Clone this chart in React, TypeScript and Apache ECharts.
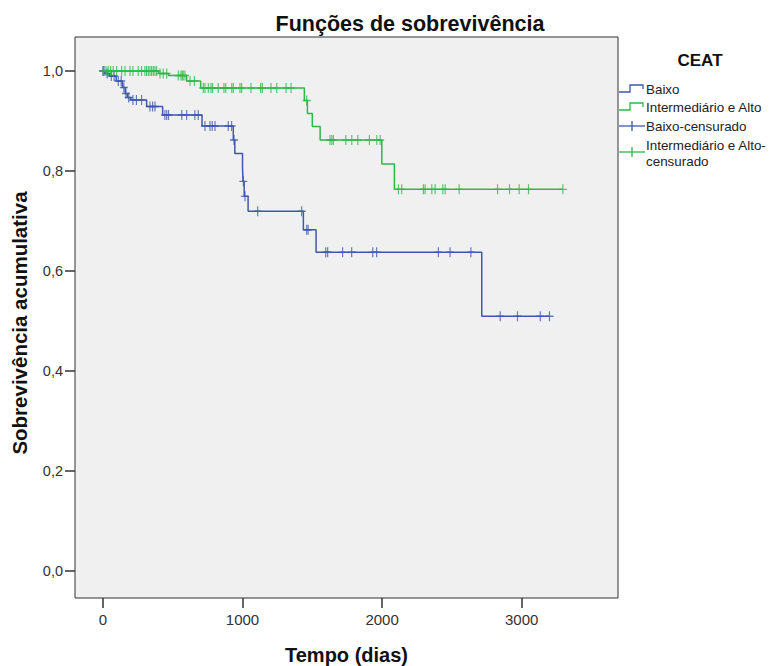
import React, { useEffect, useRef } from "react";
import * as echarts from "echarts";

const BLUE = "#3E58AC";
const GREEN = "#2EB848";
const FONT = "'Liberation Sans', Arial, sans-serif";

const chartTitle = "Funções de sobrevivência";
const xAxisTitle = "Tempo (dias)";
const yAxisTitle = "Sobrevivência acumulativa";
const legendTitle = "CEAT";
const seriesNames = ["Baixo", "Intermediário e Alto", "Baixo-censurado", "Intermediário e Alto-censurado"];

const xTicks = [0, 1000, 2000, 3000];
const yTicks = [0, 0.2, 0.4, 0.6, 0.8, 1.0];

// Kaplan-Meier steps [time, survival]
const baixoSteps: [number, number][] = [
  [0, 1.0], [15, 0.995], [45, 0.99], [95, 0.98], [140, 0.967], [160, 0.955],
  [175, 0.947], [200, 0.942], [313, 0.929], [428, 0.912], [710, 0.89],
  [934, 0.862], [945, 0.835], [1000, 0.807], [1004, 0.779], [1012, 0.749],
  [1040, 0.719], [1436, 0.682], [1527, 0.637], [2714, 0.509], [3199, 0.509],
];

const altoSteps: [number, number][] = [
  [0, 1.0], [400, 0.995], [470, 0.991], [600, 0.98], [700, 0.966],
  [1443, 0.941], [1465, 0.915], [1500, 0.889], [1556, 0.862],
  [1998, 0.814], [2088, 0.763], [3295, 0.763],
];

// censored observations [time, survival]
const baixoCensored: [number, number][] = [
  [0, 1.0], [8, 1.0], [30, 0.995], [60, 0.99], [80, 0.99], [110, 0.98], [131, 0.98],
  [150, 0.967], [165, 0.955], [185, 0.947], [215, 0.942], [240, 0.942], [277, 0.942],
  [337, 0.929], [356, 0.929], [373, 0.929], [444, 0.912], [457, 0.912], [470, 0.912],
  [565, 0.912], [600, 0.912], [659, 0.912], [683, 0.912],
  [731, 0.89], [767, 0.89], [783, 0.89], [803, 0.89], [898, 0.89], [922, 0.89],
  [939, 0.862], [1006, 0.779], [1018, 0.749], [1109, 0.719], [1424, 0.719],
  [1460, 0.682], [1470, 0.682],
  [1596, 0.637], [1610, 0.637], [1717, 0.637], [1782, 0.637], [1933, 0.637],
  [1961, 0.637], [2403, 0.637], [2487, 0.637], [2636, 0.637],
  [2846, 0.509], [2970, 0.509], [3133, 0.509], [3199, 0.509],
];

const altoCensored: [number, number][] = [
  [2, 1.0], [22, 1.0], [38, 1.0], [55, 1.0], [74, 1.0], [98, 1.0], [134, 1.0],
  [158, 1.0], [194, 1.0], [215, 1.0], [253, 1.0], [277, 1.0], [301, 1.0],
  [313, 1.0], [325, 1.0], [337, 1.0], [349, 1.0], [361, 1.0], [373, 1.0], [385, 1.0],
  [409, 0.995], [432, 0.995], [457, 0.995],
  [540, 0.991], [559, 0.991], [568, 0.991], [575, 0.991], [588, 0.991],
  [624, 0.98], [655, 0.98],
  [719, 0.966], [731, 0.966], [755, 0.966], [774, 0.966], [786, 0.966], [826, 0.966],
  [867, 0.966], [880, 0.966], [923, 0.966], [934, 0.966], [982, 0.966], [994, 0.966],
  [1061, 0.966], [1130, 0.966], [1142, 0.966], [1204, 0.966], [1245, 0.966],
  [1312, 0.966], [1348, 0.966],
  [1460, 0.941],
  [1627, 0.862], [1640, 0.862], [1651, 0.862], [1740, 0.862], [1783, 0.862],
  [1826, 0.862], [1909, 0.862], [1962, 0.862], [1986, 0.862],
  [2117, 0.763], [2141, 0.763], [2296, 0.763], [2308, 0.763], [2356, 0.763],
  [2380, 0.763], [2435, 0.763], [2452, 0.763], [2552, 0.763], [2827, 0.763],
  [2913, 0.763], [2982, 0.763], [3049, 0.763], [3295, 0.763],
];

const PLUS = "path://M5,0 L5,10 M0,5 L10,5";

export default function App() {
  const ref = useRef<HTMLDivElement>(null);

  useEffect(() => {
    if (!ref.current) return;
    const chart = echarts.init(ref.current, null, { renderer: "svg" });

    const legendText = (x: number, y: number, text: string) => ({
      type: "text",
      x,
      y,
      style: {
        text,
        fill: "#222",
        font: `13.4px ${FONT}`,
        verticalAlign: "middle",
        align: "left",
      },
    });

    chart.setOption({
      animation: false,
      backgroundColor: "#ffffff",
      grid: {
        left: 75,
        top: 37,
        right: 158,
        bottom: 68,
        show: true,
        outerBoundsMode: "none",
        containLabel: false,
        backgroundColor: "#F0F0F0",
        borderColor: "#333333",
        borderWidth: 1,
      },
      xAxis: {
        type: "value",
        min: -200,
        max: 3690,
        name: xAxisTitle,
        nameLocation: "middle",
        nameGap: 47,
        nameTextStyle: { fontFamily: FONT, fontSize: 20, fontWeight: "bold", color: "#111" },
        axisLine: { show: false, onZero: false },
        axisTick: { show: true, inside: false, customValues: xTicks, length: 10, lineStyle: { color: "#333", width: 1.5 } },
        axisLabel: {
          customValues: xTicks,
          margin: 14,
          fontFamily: FONT,
          fontSize: 15,
          color: "#333",
          formatter: (v: number) => String(v),
        },
        splitLine: { show: false },
      },
      yAxis: {
        type: "value",
        min: -0.055,
        max: 1.068,
        axisLine: { show: false, onZero: false },
        axisTick: { show: true, inside: false, customValues: yTicks, length: 10, lineStyle: { color: "#333", width: 1.5 } },
        axisLabel: {
          customValues: yTicks,
          margin: 12,
          fontFamily: FONT,
          fontSize: 14.5,
          color: "#333",
          formatter: (v: number) => v.toFixed(1).replace(".", ","),
        },
        splitLine: { show: false },
      },
      series: [
        {
          name: seriesNames[0],
          type: "line",
          step: "end",
          data: baixoSteps,
          symbol: "none",
          lineStyle: { color: BLUE, width: 1.5 },
          z: 2,
        },
        {
          name: seriesNames[1],
          type: "line",
          step: "end",
          data: altoSteps,
          symbol: "none",
          lineStyle: { color: GREEN, width: 1.5 },
          z: 2,
        },
        {
          name: seriesNames[2],
          type: "scatter",
          data: baixoCensored,
          symbol: PLUS,
          symbolSize: [8, 10],
          itemStyle: { color: "none", borderColor: BLUE, borderWidth: 1.3 },
          z: 3,
        },
        {
          name: seriesNames[3],
          type: "scatter",
          data: altoCensored,
          symbol: PLUS,
          symbolSize: [8, 10],
          itemStyle: { color: "none", borderColor: GREEN, borderWidth: 1.3 },
          z: 3,
        },
      ],
      graphic: [
        {
          type: "text",
          x: 410,
          y: 24,
          style: {
            text: chartTitle,
            fill: "#111",
            font: `bold 21.5px ${FONT}`,
            align: "center",
            verticalAlign: "middle",
          },
        },
        {
          type: "text",
          x: 19,
          y: 323,
          rotation: Math.PI / 2,
          style: {
            text: yAxisTitle,
            fill: "#111",
            font: `bold 20.5px ${FONT}`,
            align: "center",
            verticalAlign: "middle",
          },
        },
        {
          type: "text",
          x: 700,
          y: 60,
          style: {
            text: legendTitle,
            fill: "#111",
            font: `bold 17px ${FONT}`,
            align: "center",
            verticalAlign: "middle",
          },
        },
        {
          type: "polyline",
          shape: { points: [[619, 92], [630, 92], [630, 85], [643, 85], [643, 89]] },
          style: { stroke: BLUE, lineWidth: 1.3, fill: null },
        },
        legendText(646, 89, seriesNames[0]),
        {
          type: "polyline",
          shape: { points: [[619, 110], [630, 110], [630, 103], [643, 103], [643, 107]] },
          style: { stroke: GREEN, lineWidth: 1.3, fill: null },
        },
        legendText(646, 107, seriesNames[1]),
        {
          type: "line",
          shape: { x1: 619, y1: 126, x2: 645, y2: 126 },
          style: { stroke: BLUE, lineWidth: 1.3 },
        },
        {
          type: "line",
          shape: { x1: 632, y1: 121, x2: 632, y2: 131 },
          style: { stroke: BLUE, lineWidth: 1.3 },
        },
        legendText(646, 126, seriesNames[2]),
        {
          type: "line",
          shape: { x1: 619, y1: 152, x2: 645, y2: 152 },
          style: { stroke: GREEN, lineWidth: 1.3 },
        },
        {
          type: "line",
          shape: { x1: 632, y1: 147, x2: 632, y2: 157 },
          style: { stroke: GREEN, lineWidth: 1.3 },
        },
        legendText(646, 145, "Intermediário e Alto-"),
        legendText(646, 161, "censurado"),
      ],
    });

    return () => chart.dispose();
  }, []);

  return (
    <div
      ref={ref}
      style={{ position: "fixed", left: 0, top: 0, width: 776, height: 666, background: "#fff" }}
    />
  );
}
